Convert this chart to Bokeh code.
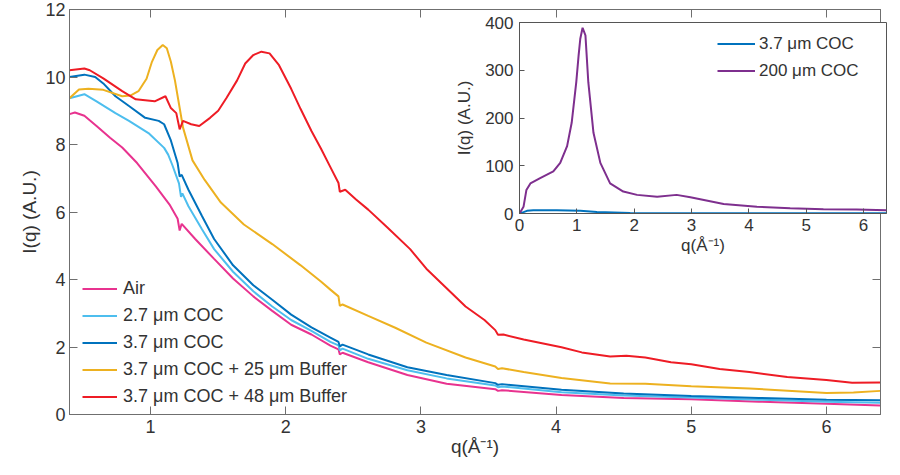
from bokeh.plotting import figure
from bokeh.models import Range1d, LinearAxis
from bokeh.layouts import column
from bokeh.embed import file_html
from bokeh.resources import INLINE

# ---------------- data ----------------
q_air = [0.40, 0.44, 0.51, 0.60, 0.70, 0.79, 0.90, 1.04, 1.14, 1.20, 1.215, 1.23, 1.33, 1.47,
         1.61, 1.76, 1.90, 2.04, 2.19, 2.33, 2.39, 2.40, 2.42, 2.61, 2.90, 3.19, 3.55, 3.57,
         3.60, 4.04, 4.50, 5.00, 5.50, 6.00, 6.40]
i_air = [8.90, 8.95, 8.85, 8.55, 8.20, 7.91, 7.45, 6.75, 6.22, 5.80, 5.45, 5.65, 5.20, 4.61,
         4.03, 3.50, 3.07, 2.66, 2.37, 2.04, 1.93, 1.78, 1.83, 1.55, 1.17, 0.91, 0.75, 0.70,
         0.72, 0.58, 0.49, 0.45, 0.38, 0.32, 0.27]

q_c27 = [0.40, 0.51, 0.60, 0.74, 0.84, 0.99, 1.10, 1.13, 1.16, 1.21, 1.225, 1.235, 1.28, 1.38,
         1.47, 1.61, 1.76, 1.90, 2.04, 2.19, 2.33, 2.39, 2.40, 2.42, 2.61, 2.90, 3.19, 3.55,
         3.57, 3.60, 4.04, 4.50, 5.00, 5.50, 6.00, 6.40]
i_c27 = [9.37, 9.49, 9.28, 8.93, 8.70, 8.32, 7.90, 7.70, 7.40, 6.85, 6.45, 6.55, 6.17, 5.49,
         4.90, 4.23, 3.65, 3.20, 2.80, 2.48, 2.15, 2.05, 1.90, 1.95, 1.65, 1.31, 1.07, 0.86,
         0.81, 0.83, 0.66, 0.56, 0.50, 0.44, 0.38, 0.35]

q_c37 = [0.40, 0.51, 0.59, 0.65, 0.74, 0.84, 0.96, 1.06, 1.10, 1.15, 1.20, 1.215, 1.23, 1.28,
         1.38, 1.47, 1.61, 1.76, 1.90, 2.04, 2.19, 2.33, 2.39, 2.40, 2.42, 2.61, 2.90, 3.19,
         3.55, 3.57, 3.60, 4.04, 4.50, 5.00, 5.50, 6.00, 6.40]
i_c37 = [10.00, 10.07, 10.00, 9.81, 9.43, 9.14, 8.79, 8.70, 8.60, 8.12, 7.45, 7.05, 7.10, 6.66,
         5.88, 5.20, 4.42, 3.83, 3.40, 2.96, 2.58, 2.28, 2.15, 2.02, 2.07, 1.78, 1.40, 1.17,
         0.93, 0.88, 0.90, 0.73, 0.62, 0.55, 0.49, 0.44, 0.42]

q_b25 = [0.40, 0.47, 0.54, 0.65, 0.79, 0.85, 0.91, 0.97, 1.01, 1.05, 1.09, 1.12, 1.15, 1.18,
         1.21, 1.24, 1.31, 1.40, 1.52, 1.69, 1.90, 2.11, 2.26, 2.33, 2.39, 2.40, 2.42, 2.61,
         2.81, 3.04, 3.33, 3.55, 3.57, 3.60, 3.76, 4.04, 4.40, 4.66, 5.00, 5.43, 6.00, 6.20, 6.40]
i_b25 = [9.37, 9.63, 9.65, 9.62, 9.43, 9.45, 9.58, 9.95, 10.45, 10.80, 10.95, 10.85, 10.45, 9.90,
         9.20, 8.50, 7.53, 6.95, 6.28, 5.63, 5.05, 4.42, 3.94, 3.70, 3.50, 3.22, 3.26, 2.92,
         2.57, 2.13, 1.69, 1.42, 1.35, 1.37, 1.26, 1.08, 0.92, 0.91, 0.84, 0.77, 0.64, 0.65, 0.70]

q_b48 = [0.40, 0.51, 0.55, 0.65, 0.79, 0.89, 1.03, 1.11, 1.15, 1.19, 1.215, 1.24, 1.30, 1.36,
         1.44, 1.50, 1.56, 1.64, 1.70, 1.76, 1.82, 1.88, 1.95, 2.04, 2.11, 2.19, 2.26, 2.33,
         2.39, 2.40, 2.44, 2.52, 2.61, 2.75, 2.92, 3.04, 3.19, 3.33, 3.47, 3.55, 3.57, 3.61,
         3.76, 4.04, 4.19, 4.40, 4.52, 4.66, 4.85, 5.00, 5.21, 5.43, 5.71, 6.00, 6.19, 6.40]
i_b48 = [10.20, 10.25, 10.20, 9.96, 9.58, 9.34, 9.28, 9.43, 9.08, 8.93, 8.45, 8.70, 8.60, 8.55,
         8.79, 9.00, 9.37, 9.90, 10.40, 10.65, 10.75, 10.70, 10.35, 9.65, 9.05, 8.40, 7.88, 7.33,
         6.86, 6.60, 6.66, 6.37, 6.07, 5.55, 4.90, 4.32, 3.74, 3.20, 2.80, 2.50, 2.36, 2.37,
         2.22, 1.99, 1.84, 1.72, 1.74, 1.69, 1.55, 1.49, 1.35, 1.26, 1.11, 1.02, 0.94, 0.95]

# inset
q_in_200 = [0.00, 0.07, 0.12, 0.19, 0.36, 0.59, 0.71, 0.83, 0.91, 0.99, 1.03, 1.06, 1.10, 1.15,
            1.20, 1.29, 1.41, 1.58, 1.81, 2.05, 2.40, 2.74, 2.98, 3.56, 4.14, 4.72, 5.30, 5.88, 6.40]
i_in_200 = [0, 14, 49, 63, 74, 88, 106, 141, 190, 275, 330, 366, 389, 373,
            275, 169, 106, 63, 46, 39, 35, 39, 34, 20, 14, 11, 9, 8.5, 7]
q_in_37 = [0.00, 0.07, 0.13, 0.24, 0.65, 1.06, 1.35, 1.93, 3.00, 4.00, 5.00, 6.40]
i_in_37 = [0, 3, 5.6, 7, 7, 5.6, 3, 1, 0.6, 0.5, 0.4, 0.4]

x_ticks = [1, 2, 3, 4, 5, 6]
y_ticks = [0, 2, 4, 6, 8, 10, 12]
inset_x_ticks = [0, 1, 2, 3, 4, 5, 6]
inset_y_ticks = [0, 100, 200, 300, 400]

labels = ["Air", "2.7 μm COC", "3.7 μm COC", "3.7 μm COC + 25 μm Buffer", "3.7 μm COC + 48 μm Buffer"]
colors = ["#E8338F", "#4DBEEE", "#0072BD", "#EDB120", "#EE1C25"]
inset_labels = ["3.7 μm COC", "200 μm COC"]
inset_colors = ["#0072BD", "#7E2F8E"]

FONT = "Liberation Sans"
AX = "#6f6f6f"
TXT = "#333333"


def style_axis(ax, font_size, tick_in):
    ax.axis_line_color = AX
    ax.major_tick_line_color = AX
    ax.minor_tick_line_color = None
    ax.major_tick_in = tick_in
    ax.major_tick_out = 0
    ax.major_label_text_font = FONT
    ax.major_label_text_font_size = font_size
    ax.major_label_text_color = TXT
    ax.axis_label_text_font = FONT
    ax.axis_label_text_font_style = "normal"
    ax.axis_label_text_color = TXT


# ---------------- main figure ----------------
p = figure(width=884, height=459, x_range=Range1d(0.4, 6.4), y_range=Range1d(0, 12),
           output_backend="svg", toolbar_location=None,
           min_border_left=10, min_border_right=2, min_border_top=9, min_border_bottom=0)
p.grid.visible = False
p.outline_line_color = AX
p.background_fill_color = "white"

for qs, vals, lab, col in zip([q_air, q_c27, q_c37, q_b25, q_b48],
                              [i_air, i_c27, i_c37, i_b25, i_b48], labels, colors):
    p.line(qs, vals, line_color=col, line_width=2, legend_label=lab)

p.xaxis.ticker = x_ticks
p.yaxis.ticker = y_ticks
p.xaxis.axis_label = "q(Å⁻¹)"
p.yaxis.axis_label = "I(q) (A.U.)"
for ax in p.xaxis + p.yaxis:
    style_axis(ax, "18px", 8)
    ax.axis_label_text_font_size = "19px"
p.yaxis.major_label_standoff = 4
p.yaxis.axis_label_standoff = 2
p.xaxis.major_label_standoff = 5
p.xaxis.axis_label_standoff = 0

top = LinearAxis(ticker=x_ticks, major_label_overrides={t: "" for t in x_ticks})
right = LinearAxis(ticker=y_ticks, major_label_overrides={t: "" for t in y_ticks})
for ax in (top, right):
    style_axis(ax, "1px", 8)
    ax.major_label_standoff = 0
p.add_layout(top, "above")
p.add_layout(right, "right")

lg = p.legend[0]
lg.location = (13, 7)
lg.border_line_alpha = 0
lg.background_fill_alpha = 0
lg.padding = 0
lg.margin = 0
lg.spacing = 6
lg.label_height = 21
lg.glyph_height = 21
lg.glyph_width = 35
lg.label_standoff = 6
lg.label_text_font = FONT
lg.label_text_font_size = "18px"
lg.label_text_color = TXT

# ---------------- inset figure ----------------
ins = figure(width=440, height=250, x_range=Range1d(0, 6.4), y_range=Range1d(0, 400),
             output_backend="svg", toolbar_location=None,
             min_border_left=69, min_border_right=4, min_border_top=14, min_border_bottom=45)
ins.grid.visible = False
ins.border_fill_alpha = 0
ins.background_fill_color = "white"
ins.outline_line_color = "#555555"

ins.line(q_in_37, i_in_37, line_color=inset_colors[0], line_width=2, legend_label=inset_labels[0])
ins.line(q_in_200, i_in_200, line_color=inset_colors[1], line_width=2, legend_label=inset_labels[1])

ins.xaxis.ticker = inset_x_ticks
ins.yaxis.ticker = inset_y_ticks
ins.xaxis.axis_label = "q(Å⁻¹)"
ins.yaxis.axis_label = "I(q) (A.U.)"
for ax in ins.xaxis + ins.yaxis:
    style_axis(ax, "17px", 5)
    ax.axis_line_color = "#555555"
    ax.major_tick_line_color = "#555555"
    ax.axis_label_text_font_size = "17px"
ins.yaxis.major_label_standoff = 6
ins.yaxis.axis_label_standoff = 8
ins.xaxis.major_label_standoff = 5
ins.xaxis.axis_label_standoff = 2

il = ins.legend[0]
il.location = (198, 132)
il.border_line_alpha = 0
il.background_fill_alpha = 0
il.padding = 0
il.margin = 0
il.spacing = 6
il.label_height = 21
il.glyph_height = 21
il.glyph_width = 38
il.label_standoff = 4
il.label_text_font = FONT
il.label_text_font_size = "17px"
il.label_text_color = TXT

# overlay the inset on the main plot (top-right corner)
ins.margin = (-451, 0, 201, 450)

layout = column(p, ins, spacing=0)

with open("out.html", "w") as f:
    f.write(file_html(layout, INLINE))
